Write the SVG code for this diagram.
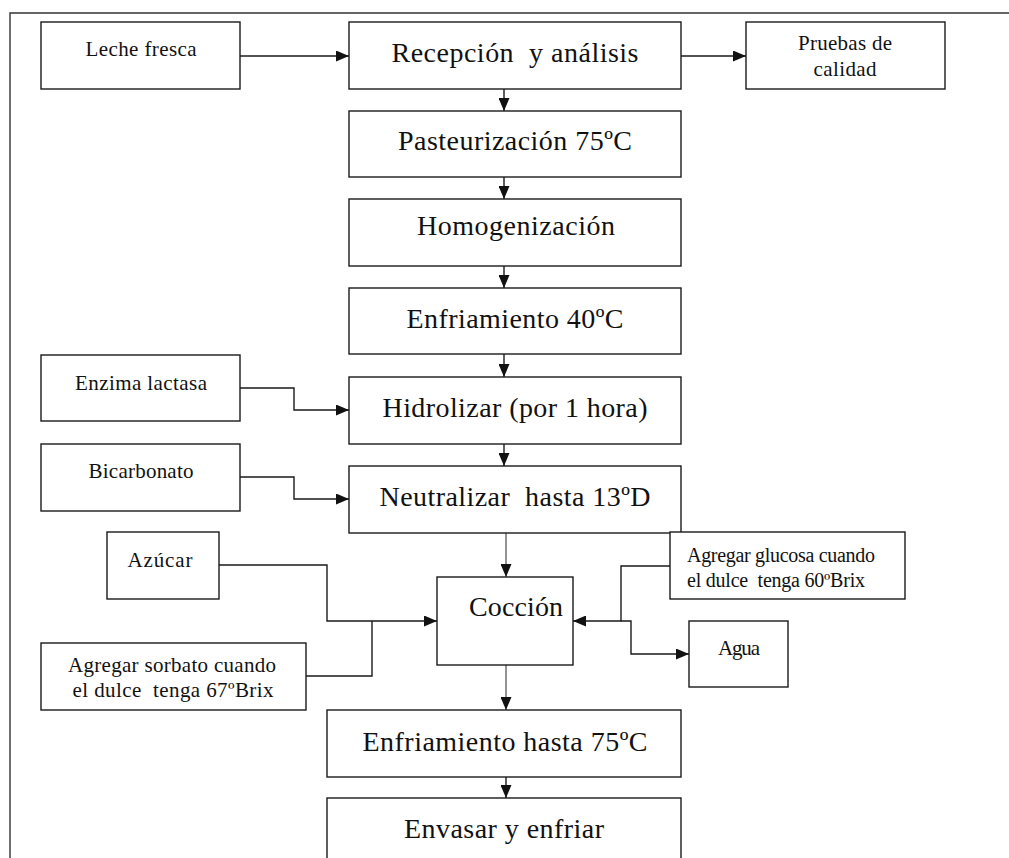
<svg xmlns="http://www.w3.org/2000/svg" width="1009" height="858" viewBox="0 0 1009 858">
<style>
.box{fill:#fff;stroke:#1a1a1a;stroke-width:1.4}
text{font-family:'Liberation Serif','DejaVu Serif','Times New Roman',serif;fill:#111}
.big{font-size:28px;text-anchor:middle}
.sm{font-size:21px;text-anchor:middle}
.smL{font-size:20px}
.con{fill:none;stroke:#1a1a1a;stroke-width:1.4}
.gray{stroke:#666}
.frame{fill:none;stroke:#333;stroke-width:1.4}
</style>
<defs>
<marker id="ah" markerUnits="userSpaceOnUse" markerWidth="13" markerHeight="11" refX="13" refY="5.5" orient="auto">
<path d="M0,0 L13,5.5 L0,11 z" fill="#111"/>
</marker>
</defs>
<rect width="1009" height="858" fill="#fff"/>
<path class="frame" d="M10,858 V13 H1009"/>

<g id="connectors">
<path class="con" d="M240,56 H349" marker-end="url(#ah)"/>
<path class="con" d="M681,56 H746" marker-end="url(#ah)"/>
<path class="con" d="M504,89 V111" marker-end="url(#ah)"/>
<path class="con" d="M504,177 V199" marker-end="url(#ah)"/>
<path class="con" d="M504,266 V288" marker-end="url(#ah)"/>
<path class="con" d="M504,354 V377" marker-end="url(#ah)"/>
<path class="con" d="M504,444 V466" marker-end="url(#ah)"/>
<path class="con" d="M240,388 H294 V410 H349" marker-end="url(#ah)"/>
<path class="con" d="M240,477 H294 V499 H349" marker-end="url(#ah)"/>
<path class="con gray" d="M506,533 V577" marker-end="url(#ah)"/>
<path class="con" d="M219,565 H327 V621 H437" marker-end="url(#ah)"/>
<path class="con" d="M306,676 H372 V621"/>
<path class="con" d="M670,566 H621 V621 H573" marker-end="url(#ah)"/>
<path class="con" d="M621,621 H631 V654 H689" marker-end="url(#ah)"/>
<path class="con gray" d="M506,665 V710" marker-end="url(#ah)"/>
<path class="con" d="M506,777 V798" marker-end="url(#ah)"/>
</g>

<g id="leche"><rect class="box" x="41" y="22" width="199" height="67"/><text class="sm" x="141" y="56" textLength="111">Leche fresca</text></g>
<g id="recepcion"><rect class="box" x="349" y="22" width="332" height="67"/><text class="big" x="515" y="62" textLength="247" xml:space="preserve">Recepción  y análisis</text></g>
<g id="pruebas"><rect class="box" x="746" y="22" width="199" height="67"/><text class="sm" x="845" y="50" textLength="94">Pruebas de</text><text class="sm" x="845" y="76" textLength="63">calidad</text></g>
<g id="pasteurizacion"><rect class="box" x="349" y="111" width="332" height="66"/><text class="big" x="515" y="150" textLength="234">Pasteurización 75ºC</text></g>
<g id="homogenizacion"><rect class="box" x="349" y="199" width="332" height="67"/><text class="big" x="516" y="235" textLength="198">Homogenización</text></g>
<g id="enfriamiento40"><rect class="box" x="349" y="288" width="332" height="66"/><text class="big" x="515" y="328" textLength="217">Enfriamiento 40ºC</text></g>
<g id="enzima"><rect class="box" x="41" y="355" width="199" height="66"/><text class="sm" x="141" y="390" textLength="132">Enzima lactasa</text></g>
<g id="hidrolizar"><rect class="box" x="349" y="377" width="332" height="67"/><text class="big" x="515" y="417" textLength="265">Hidrolizar (por 1 hora)</text></g>
<g id="bicarbonato"><rect class="box" x="41" y="444" width="199" height="67"/><text class="sm" x="141" y="478" textLength="105">Bicarbonato</text></g>
<g id="neutralizar"><rect class="box" x="349" y="466" width="332" height="67"/><text class="big" x="515" y="506" textLength="271" xml:space="preserve">Neutralizar  hasta 13ºD</text></g>
<g id="azucar"><rect class="box" x="107" y="532" width="112" height="67"/><text class="sm" x="160" y="567" textLength="65">Azúcar</text></g>
<g id="glucosa"><rect class="box" x="670" y="532" width="235" height="67"/><text class="smL" x="687" y="562" textLength="188">Agregar glucosa cuando</text><text class="smL" x="687" y="587" textLength="178" xml:space="preserve">el dulce  tenga 60ºBrix</text></g>
<g id="coccion"><rect class="box" x="437" y="577" width="136" height="88"/><text class="big" x="516" y="616" textLength="94">Cocción</text></g>
<g id="sorbato"><rect class="box" x="41" y="643" width="265" height="67"/><text class="sm" x="172" y="672" textLength="208">Agregar sorbato cuando</text><text class="sm" x="173" y="697" textLength="201" xml:space="preserve">el dulce  tenga 67ºBrix</text></g>
<g id="agua"><rect class="box" x="689" y="621" width="99" height="66"/><text class="sm" x="739" y="655" textLength="42">Agua</text></g>
<g id="enfriamiento75"><rect class="box" x="327" y="710" width="354" height="67"/><text class="big" x="505" y="751" textLength="285">Enfriamiento hasta 75ºC</text></g>
<g id="envasar"><rect class="box" x="327" y="798" width="354" height="90"/><text class="big" x="504" y="838" textLength="200">Envasar y enfriar</text></g>
</svg>
